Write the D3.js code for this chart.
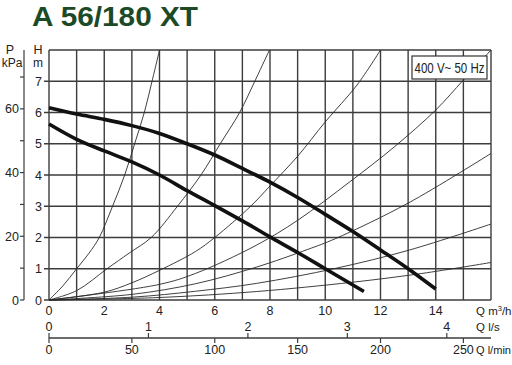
<!DOCTYPE html>
<html><head><meta charset="utf-8">
<script src="https://cdn.jsdelivr.net/npm/d3@7"></script>
<style>body{margin:0;background:#fff}svg{display:block}text{font-family:Arial,"Liberation Sans",sans-serif}</style>
</head><body>
<svg id="c" width="512" height="365"></svg>
<script>
const title = "A 56/180 XT";
const legendText = "400 V~ 50 Hz";
const qTicks = [0,2,4,6,8,10,12,14];
const hTicks = [0,1,2,3,4,5,6,7];
const kpaTicks = [0,20,40,60];
const kpaMinor = [10,30,50,70];
const lsTicks = [0,1,2,3,4];
const lminTicks = [0,50,100,150,200,250];

// pump curves (Q m3/h, H m)
const upperQ = [0,1,2,3,4,5,6,7,8,9,10,11,12,13,14];
const upperH = [6.15,5.95,5.78,5.58,5.33,5.0,4.64,4.21,3.77,3.28,2.74,2.19,1.6,1.0,0.35];
const lowerQ = [0,1,2,3,4,5,6,7,8,9,10,11.4];
const lowerH = [5.63,5.14,4.77,4.42,4.0,3.5,3.02,2.53,2.02,1.52,1.0,0.27];

// system curves
const sysA = [[0,0],[0.5,0.45],[1,1],[1.45,1.5],[1.82,2],[2.3,3],[2.74,4],[3.1,5],[3.45,6],[3.73,7],[4.0,8]];
const sysC = [[0,0],[1,0.3],[2.1,1],[2.9,1.5],[3.7,2],[4.65,3],[5.5,4],[6.2,5],[6.9,6],[7.45,7],[7.98,8]];
const sysE = [[0,0],[2,0.25],[3,0.55],[4,0.95],[5.3,1.55],[6,2.0],[7.3,3.0],[8,3.65],[9,4.6],[10,5.7],[11.15,6.88],[12,8]];
const sysG = [[0,0],[4,0.5],[5.3,0.85],[7.5,1.75],[9,2.55],[10.9,3.79],[12.5,4.9],[14,6.08],[15,7.04],[16,8.0]];
const sysF1 = [[0,0],[3,0.18],[5.3,0.52],[7.5,1.05],[9.37,1.62],[10.36,1.96],[13,3.1],[16,4.69]];
const sysF2 = [[0,0],[3,0.09],[5.3,0.28],[7.5,0.53],[10.36,1.01],[13.05,1.6],[16,2.43]];
const sysF3 = [[0,0],[4,0.08],[7.5,0.27],[11,0.57],[13.5,0.85],[16,1.2]];
const systemCurves = [sysA, sysC, sysE, sysG, sysF1, sysF2, sysF3];

const svg = d3.select("#c");
const x = d3.scaleLinear().domain([0,16]).range([49,491]);
const y = d3.scaleLinear().domain([0,8]).range([300,50]);
const yP = d3.scaleLinear().domain([0,8*9.81]).range([300,50]);
const xLs = d3.scaleLinear().domain([0,16/3.6]).range([49,491]);
const xLmin = d3.scaleLinear().domain([0,16/0.06]).range([49,491]);
const gridCol = "#3c3c3c";
const txtCol = "#222";

// title
svg.append("text").attr("x",32).attr("y",26).attr("font-size",28.5).attr("font-weight","bold")
  .attr("textLength",166).attr("lengthAdjust","spacingAndGlyphs")
  .attr("fill","#1d4a26").text(title);

// grid
const g = svg.append("g");
g.selectAll(".vg").data(d3.range(0,17)).join("line")
  .attr("x1",d=>x(d)).attr("x2",d=>x(d)).attr("y1",y(8)).attr("y2",y(0))
  .attr("stroke",gridCol).attr("stroke-width",1.4);
g.selectAll(".hg").data(d3.range(0,9)).join("line")
  .attr("x1",d=>d===8?x(0):x(0)-5).attr("x2",x(16)).attr("y1",d=>y(d)).attr("y2",d=>y(d))
  .attr("stroke",gridCol).attr("stroke-width",1.4);

// H labels
svg.selectAll(".hl").data(hTicks).join("text")
  .attr("x",42).attr("y",d=>y(d)+4.5).attr("text-anchor","end").attr("font-size",12.5).attr("fill",txtCol).text(d=>d);
svg.append("text").attr("x",38).attr("y",54).attr("text-anchor","middle").attr("font-size",12.5).attr("fill",txtCol).text("H");
svg.append("text").attr("x",38).attr("y",67).attr("text-anchor","middle").attr("font-size",12).attr("fill",txtCol).text("m");

// P axis
svg.append("line").attr("x1",24).attr("x2",24).attr("y1",50).attr("y2",yP(0)).attr("stroke",gridCol).attr("stroke-width",1.2);
svg.selectAll(".pt").data(kpaTicks.concat(kpaMinor)).join("line")
  .attr("x1",20).attr("x2",24).attr("y1",d=>yP(d)).attr("y2",d=>yP(d)).attr("stroke",gridCol).attr("stroke-width",1.2);
svg.selectAll(".pl").data(kpaTicks).join("text")
  .attr("x",19).attr("y",d=>yP(d)+4.5).attr("text-anchor","end").attr("font-size",12.5).attr("fill",txtCol).text(d=>d);
svg.append("text").attr("x",10).attr("y",54).attr("text-anchor","middle").attr("font-size",12.5).attr("fill",txtCol).text("P");
svg.append("text").attr("x",12).attr("y",67).attr("text-anchor","middle").attr("font-size",12).attr("fill",txtCol).text("kPa");

// Q m3/h labels
svg.selectAll(".ql").data(qTicks).join("text")
  .attr("x",d=>x(d)).attr("y",315).attr("text-anchor","middle").attr("font-size",12.5).attr("fill",txtCol).text(d=>d);
svg.append("text").attr("x",476).attr("y",315).attr("font-size",11.5).attr("fill",txtCol)
  .html('Q m<tspan dy="-4" font-size="7.5">3</tspan><tspan dy="4">/h</tspan>');

// l/s and l/min axis
svg.append("line").attr("x1",x(0)).attr("x2",x(16)).attr("y1",338).attr("y2",338).attr("stroke",gridCol).attr("stroke-width",1.3);
svg.selectAll(".lst").data(lsTicks).join("line")
  .attr("x1",d=>xLs(d)).attr("x2",d=>xLs(d)).attr("y1",333).attr("y2",338).attr("stroke",gridCol).attr("stroke-width",1.2);
svg.selectAll(".lsl").data(lsTicks).join("text")
  .attr("x",d=>xLs(d)).attr("y",331).attr("text-anchor","middle").attr("font-size",12.5).attr("fill",txtCol).text(d=>d);
svg.append("text").attr("x",476).attr("y",331).attr("font-size",11.5).attr("fill",txtCol).text("Q l/s");
svg.selectAll(".lmt").data(lminTicks).join("line")
  .attr("x1",d=>xLmin(d)).attr("x2",d=>xLmin(d)).attr("y1",338).attr("y2",343).attr("stroke",gridCol).attr("stroke-width",1.2);
svg.selectAll(".lml").data(lminTicks).join("text")
  .attr("x",d=>xLmin(d)).attr("y",354).attr("text-anchor","middle").attr("font-size",12.5).attr("fill",txtCol).text(d=>d);
svg.append("text").attr("x",476).attr("y",354).attr("font-size",11.5).attr("fill",txtCol)
  .attr("textLength",35).attr("lengthAdjust","spacingAndGlyphs").text("Q l/min");

// system curves
const line = d3.line().x(d=>x(d[0])).y(d=>y(d[1])).curve(d3.curveCatmullRom.alpha(0.5));
svg.selectAll(".sys").data(systemCurves).join("path")
  .attr("d",line).attr("fill","none").attr("stroke","#2a2a2a").attr("stroke-width",0.9);

// pump curves
const pump = [upperQ.map((q,i)=>[q,upperH[i]]), lowerQ.map((q,i)=>[q,lowerH[i]])];
svg.selectAll(".pump").data(pump).join("path")
  .attr("d",line).attr("fill","none").attr("stroke","#111").attr("stroke-width",3.6).attr("stroke-linecap","butt");

// legend box
svg.append("rect").attr("x",412).attr("y",56).attr("width",75).attr("height",23)
  .attr("fill","#fff").attr("stroke","#333").attr("stroke-width",1.2);
svg.append("text").attr("x",414.5).attr("y",72.5).attr("font-size",14)
  .attr("textLength",70).attr("lengthAdjust","spacingAndGlyphs")
  .attr("fill",txtCol).text(legendText);
</script>
</body></html>
